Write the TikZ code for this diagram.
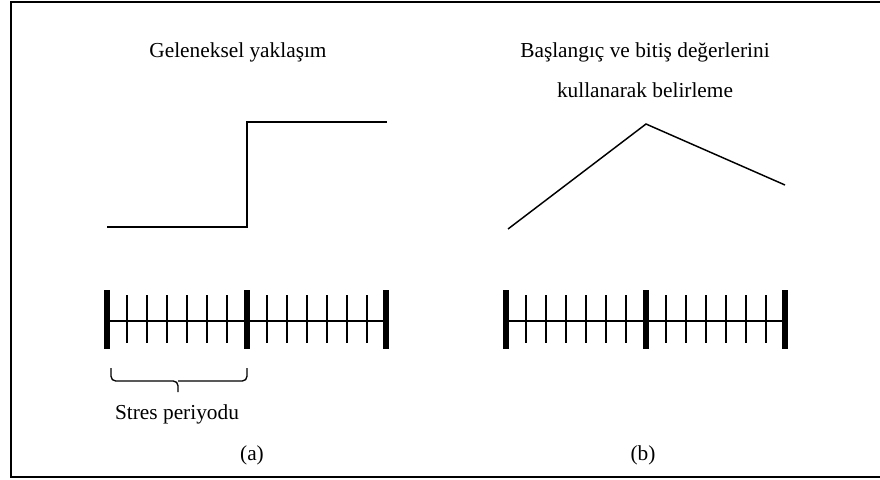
\documentclass[tikz,border=0pt]{standalone}
\usepackage{fontspec}
\setmainfont{Liberation Serif}
\begin{document}
\begin{tikzpicture}[x=0.75pt,y=-0.75pt,
  lbl/.style={font=\fontsize{16}{19}\selectfont, inner sep=0pt},
  curve/.style={line width=1.1pt},
  axisline/.style={line width=1.5pt},
  bar/.style={line width=3.8pt},
  tick/.style={line width=1pt},
  frameline/.style={line width=1.6pt}]
\useasboundingbox (0,0) rectangle (880,479);

% open frame (no right edge)
\draw[frameline] (880,2) -- (11,2) -- (11,477) -- (880,477);

% (a) traditional approach
\node[lbl] (ta) at (238,52) {Geleneksel yaklaşım};
\draw[curve] (107,227) -- (247,227) -- (247,122) -- (387,122);

% (b) start/end values
\node[lbl] (tb1) at (645,52) {Başlangıç ve bitiş değerlerini};
\node[lbl] (tb2) at (645,90) {kullanarak belirleme};
\draw[curve] (508,229) -- (646,124) -- (785,185);

% time scales
\foreach \xs in {107,506}{
  \draw[axisline] (\xs,321) -- ++(279,0);
  \foreach \k in {0,140,279}
    \draw[bar] (\xs+\k,290) -- (\xs+\k,349);
  \foreach \k in {20,40,...,120,160,180,...,260}
    \draw[tick] (\xs+\k,295) -- (\xs+\k,343);
}

% stress period brace
\draw[line width=1pt, rounded corners=3.5pt] (111,368) |- (178,381) -- (178,392);
\draw[line width=1pt, rounded corners=3.5pt] (247,368) |- (178,381);
\node[lbl] (sp) at (177,414) {Stres periyodu};

\node[lbl] (la) at (252,455) {(a)};
\node[lbl] (lb) at (643,455) {(b)};
\end{tikzpicture}
\end{document}
